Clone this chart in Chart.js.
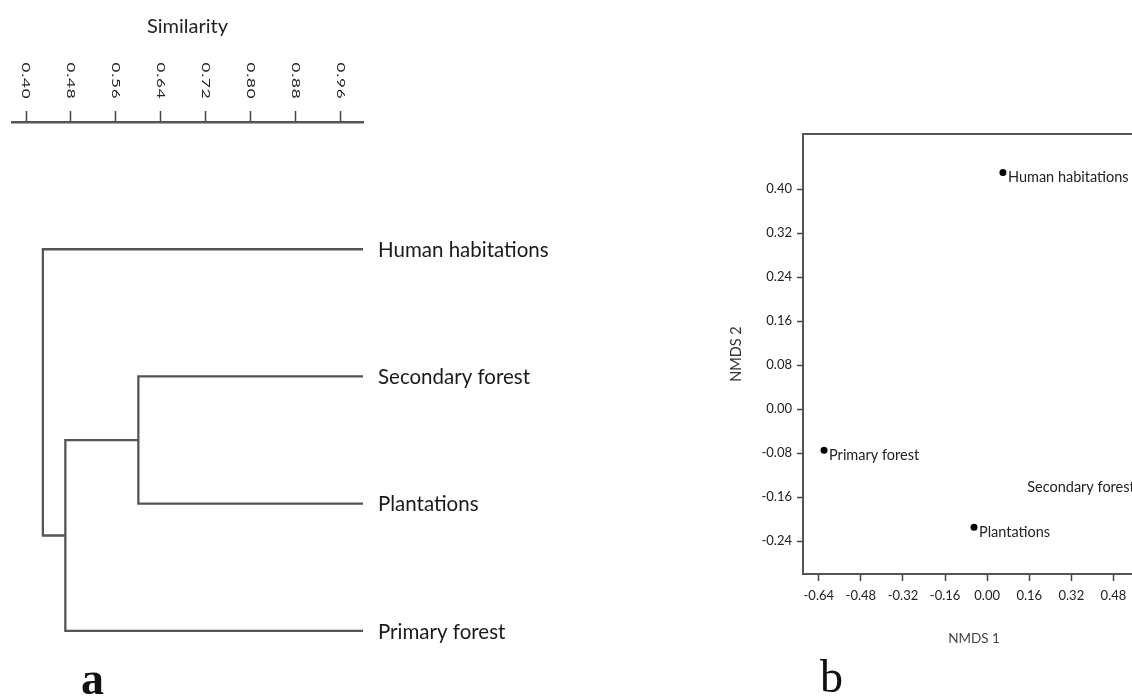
<!DOCTYPE html>
<html>
<head>
<meta charset="utf-8">
<script src="https://cdn.jsdelivr.net/npm/chart.js@4.4.1/dist/chart.umd.min.js"></script>
<style>
html,body{margin:0;padding:0;background:#fff;overflow:hidden;width:1132px;height:698px;position:relative}
#dendro{position:absolute;left:0;top:0}
#nmds{position:absolute;left:700px;top:0}
.panel{position:absolute;font-family:"Liberation Serif","DejaVu Serif",serif;font-size:46px;line-height:46px;color:#111}
</style>
</head>
<body>
<canvas id="dendro" width="600" height="698"></canvas>
<canvas id="nmds" width="470" height="698"></canvas>
<div class="panel" style="left:81px;top:656px;font-weight:bold">a</div>
<div class="panel" style="left:820px;top:654px">b</div>
<script>
// ---------- Data: (a) cluster dendrogram ----------
const leafLabels = ['Human habitations', 'Secondary forest', 'Plantations', 'Primary forest'];
const leafSimilarity = 1.0;
const mergeChildA = ['Secondary forest', 'M0', 'Human habitations'];
const mergeChildB = ['Plantations', 'Primary forest', 'M1'];
const mergeSimilarity = [0.60, 0.47, 0.43];
const similarityTicks = [0.40, 0.48, 0.56, 0.64, 0.72, 0.80, 0.88, 0.96];

// ---------- Data: (b) NMDS ordination ----------
const siteNames = ['Human habitations', 'Primary forest', 'Plantations', 'Secondary forest'];
const nmds1 = [0.06, -0.62, -0.05, 0.58];
const nmds2 = [0.43, -0.075, -0.215, -0.133];
const nmds1Ticks = [-0.64, -0.48, -0.32, -0.16, 0.00, 0.16, 0.32, 0.48];
const nmds2Ticks = [-0.24, -0.16, -0.08, 0.00, 0.08, 0.16, 0.24, 0.32, 0.40];

Chart.defaults.font.family = 'Lato, "Open Sans", sans-serif';
const AX = '#555';

// Build dendrogram U-shaped links from merge table
const nodeX = {}, nodeY = {};
leafLabels.forEach((l, i) => { nodeX[l] = leafSimilarity; nodeY[l] = i + 1; });
const dendroDatasets = mergeSimilarity.map((s, k) => {
  const a = mergeChildA[k], b = mergeChildB[k];
  const pts = [
    {x: nodeX[a], y: nodeY[a]}, {x: s, y: nodeY[a]},
    {x: s, y: nodeY[b]}, {x: nodeX[b], y: nodeY[b]}
  ];
  nodeX['M' + k] = s;
  nodeY['M' + k] = (nodeY[a] + nodeY[b]) / 2;
  return {
    data: pts, showLine: true, borderColor: '#555', borderWidth: 2.3,
    pointRadius: 0, fill: false, tension: 0, clip: false,
    borderJoinStyle: 'miter', borderCapStyle: 'butt'
  };
});

const dendroText = {
  id: 'dendroText',
  afterDraw(chart) {
    const {ctx, scales: {x, y}} = chart;
    ctx.save();
    ctx.fillStyle = '#222';
    ctx.font = '11px Lato, sans-serif';
    try { ctx.letterSpacing = '0.5px'; } catch (e) {}
    similarityTicks.forEach(v => {
      const px = x.getPixelForValue(v);
      ctx.save();
      ctx.translate(px, x.bottom - 41);
      ctx.rotate(Math.PI / 2);
      ctx.scale(1.55, 1);
      ctx.textAlign = 'center';
      ctx.textBaseline = 'middle';
      ctx.fillText(v.toFixed(2), 0, 0);
      ctx.restore();
    });
    try { ctx.letterSpacing = '0px'; } catch (e) {}
    ctx.fillStyle = '#1a1a1a';
    ctx.font = '20.5px Lato, sans-serif';
    ctx.textAlign = 'left';
    ctx.textBaseline = 'middle';
    leafLabels.forEach((l, i) => {
      ctx.fillText(l, x.getPixelForValue(leafSimilarity) + 15, y.getPixelForValue(i + 1) + 1);
    });
    ctx.restore();
  }
};

new Chart(document.getElementById('dendro'), {
  type: 'scatter',
  data: {datasets: dendroDatasets},
  plugins: [dendroText],
  options: {
    responsive: false, animation: false,
    layout: {padding: {left: 12, right: 237, top: 0, bottom: 48}},
    plugins: {legend: {display: false}, tooltip: {enabled: false}},
    scales: {
      x: {
        type: 'linear', position: 'top', min: 0.375, max: 1.0,
        afterBuildTicks: s => { s.ticks = similarityTicks.map(v => ({value: v})); },
        afterFit: s => { s.height = 122; },
        ticks: {display: false},
        grid: {display: true, drawOnChartArea: false, drawTicks: true, tickLength: 11, tickWidth: 1.5, tickColor: '#444'},
        border: {display: true, color: AX, width: 2.5},
        title: {display: true, text: 'Similarity', font: {size: 20}, color: '#222', padding: {top: 15, bottom: 0}}
      },
      y: {type: 'linear', display: false, reverse: true, min: 0, max: 4.15}
    }
  }
});

// ---------- NMDS chart ----------
const frameAndLabels = {
  id: 'frameAndLabels',
  afterDatasetsDraw(chart) {
    const {ctx, chartArea: ca, scales: {x, y}} = chart;
    ctx.save();
    ctx.strokeStyle = AX;
    ctx.lineWidth = 2;
    ctx.beginPath();
    ctx.moveTo(ca.left, ca.top);
    ctx.lineTo(ca.right, ca.top);
    ctx.lineTo(ca.right, ca.bottom);
    ctx.stroke();
    ctx.fillStyle = '#222';
    ctx.font = '14.5px Lato, sans-serif';
    ctx.textBaseline = 'middle';
    siteNames.forEach((n, i) => {
      const px = x.getPixelForValue(nmds1[i]);
      const py = y.getPixelForValue(nmds2[i]);
      const w = ctx.measureText(n).width;
      if (px + 5 + w > ca.right) {
        ctx.textAlign = 'right';
        ctx.fillText(n, px - 5, py + 5);
      } else {
        ctx.textAlign = 'left';
        ctx.fillText(n, px + 5, py + 5);
      }
    });
    ctx.restore();
  }
};

new Chart(document.getElementById('nmds'), {
  type: 'scatter',
  data: {
    datasets: [{
      data: nmds1.map((v, i) => ({x: v, y: nmds2[i]})),
      pointRadius: 3.5, pointBackgroundColor: '#000', pointBorderWidth: 0, showLine: false
    }]
  },
  plugins: [frameAndLabels],
  options: {
    responsive: false, animation: false,
    layout: {padding: {left: 0, right: 25, top: 134, bottom: 0}},
    plugins: {legend: {display: false}, tooltip: {enabled: false}},
    scales: {
      x: {
        type: 'linear', min: -0.70, max: 0.60,
        afterBuildTicks: s => { s.ticks = nmds1Ticks.map(v => ({value: v})); },
        afterFit: s => { s.height = 124; },
        ticks: {font: {size: 13}, color: '#222', padding: 7, maxRotation: 0, autoSkip: false, callback: v => Number(v).toFixed(2)},
        grid: {drawOnChartArea: false, tickLength: 7, tickColor: '#444', tickWidth: 1.5},
        border: {color: AX, width: 2},
        title: {display: true, text: 'NMDS 1', font: {size: 13.5}, color: '#444', padding: {top: 0, bottom: 51}}
      },
      y: {
        type: 'linear', min: -0.30, max: 0.50,
        afterBuildTicks: s => { s.ticks = nmds2Ticks.map(v => ({value: v})); },
        afterFit: s => { s.width = 103; },
        ticks: {font: {size: 13}, color: '#222', padding: 5, autoSkip: false, callback: v => Number(v).toFixed(2)},
        grid: {drawOnChartArea: false, tickLength: 6, tickColor: '#444', tickWidth: 1.5},
        border: {color: AX, width: 2},
        title: {display: true, text: 'NMDS 2', font: {size: 14.5}, color: '#333', padding: {top: 28, bottom: 0}}
      }
    }
  }
});
</script>
</body>
</html>
